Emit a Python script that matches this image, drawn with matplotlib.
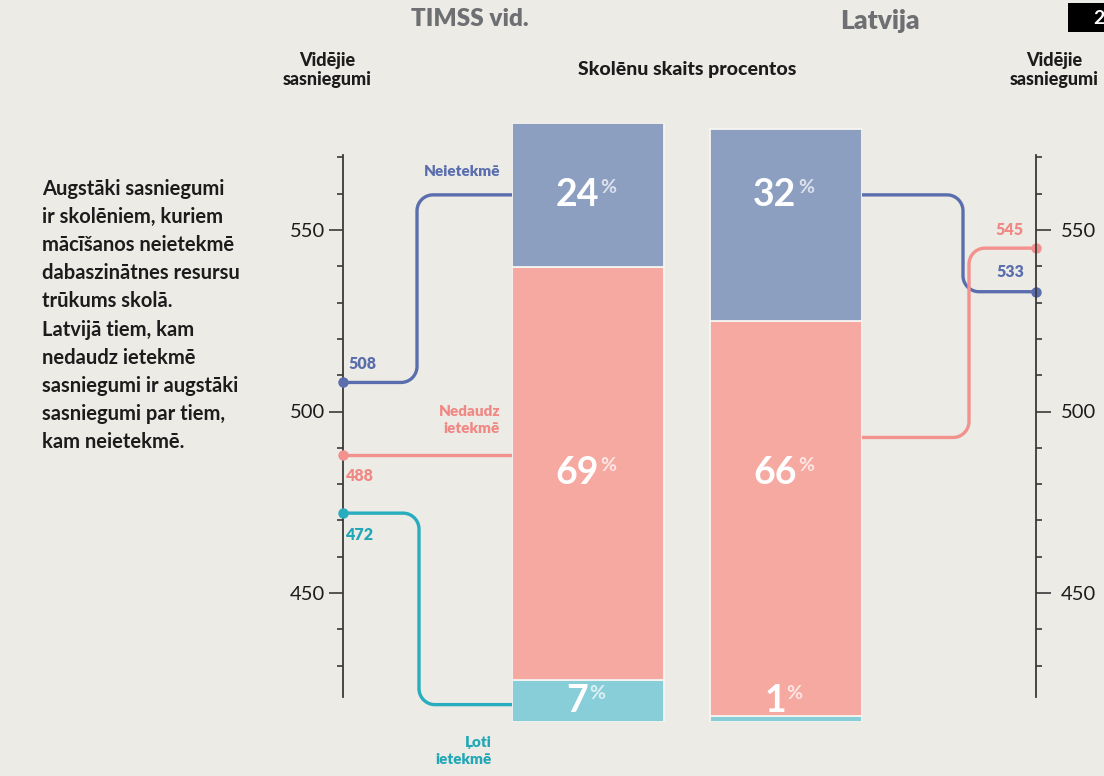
import numpy as np
import matplotlib
matplotlib.use('Agg')
import matplotlib.pyplot as plt
from matplotlib.patches import Rectangle
from matplotlib.ticker import FixedLocator

# ---------------- data ----------------
categories = ['Neietekmē', 'Nedaudz ietekmē', 'Ļoti ietekmē']
category_labels = ['Neietekmē', 'Nedaudz\nietekmē', 'Ļoti\nietekmē']
groups = ['TIMSS vid.', 'Latvija']
timss_pct = [24, 69, 7]
latvia_pct = [32, 66, 1]
timss_score = [508, 488, 472]
latvia_score = [533, 545, None]
score_major_ticks = [450, 500, 550]
score_minor_ticks = [430, 440, 460, 470, 480, 490, 510, 520, 530, 540, 560, 570]
axis_title = 'Vidējie\nsasniegumi'
bar_title = 'Skolēnu skaits procentos'
note_lines = [
    'Augstāki sasniegumi',
    'ir skolēniem, kuriem',
    'mācīšanos neietekmē',
    'dabaszinātnes resursu',
    'trūkums skolā.',
    'Latvijā tiem, kam',
    'nedaudz ietekmē',
    'sasniegumi ir augstāki',
    'sasniegumi par tiem,',
    'kam neietekmē.',
]
corner_label = '2'

# ---------------- style / layout ----------------
W, H = 1104, 776
BG = '#edebe6'
BAR_COLORS = ['#8c9fc0', '#f5a9a1', '#88ced9']
LINE_COLORS = ['#5a6eae', '#f2918d', '#27adbd']
TEXT_COLORS = ['#5a6eae', '#f08884', '#22a7b6']
GREY = '#6e6f72'
INK = '#1c1c1c'
AXC = '#3a3a3a'
FONT = ['Lato', 'Open Sans', 'DejaVu Sans']
plt.rcParams['font.family'] = FONT

fig = plt.figure(figsize=(W / 100, H / 100), dpi=100, facecolor=BG)


def fx(x):
    return x / W


def fy(y):
    return 1 - y / H


# main axes: x in pixels, y in score units
PX_PER_UNIT = 3.63
Y500 = 411.5


def score_at(p):
    return 500 + (Y500 - p) / PX_PER_UNIT


LEFT_X, RIGHT_X = 343, 1036
ax = fig.add_axes([0, 0, 1, 1])
ax.set_facecolor('none')
ax.set_xlim(0, W)
ax.set_ylim(score_at(H), score_at(0))
ax_r = ax.twinx()
ax_r.set_ylim(ax.get_ylim())

for a, side, pos in ((ax, 'left', LEFT_X), (ax_r, 'right', RIGHT_X)):
    for sp in a.spines.values():
        sp.set_visible(False)
    sp = a.spines[side]
    sp.set_visible(True)
    sp.set_position(('data', pos))
    sp.set_bounds(score_at(697), score_at(155))
    sp.set_color(AXC)
    sp.set_linewidth(1.3)
    a.set_yticks(score_major_ticks)
    a.yaxis.set_minor_locator(FixedLocator(score_minor_ticks))
    a.tick_params(axis='y', which='minor', direction='out', length=4.5, width=1.2,
                  color=AXC)
ax.set_xticks([])
ax.tick_params(axis='y', which='major', direction='out', length=10, width=1.2,
               color=AXC, labelsize=14.5, labelcolor=INK, pad=3)
ax_r.tick_params(axis='y', which='major', direction='out', length=11, width=1.2,
                 color=AXC, labelsize=14.5, labelcolor=INK, pad=7)

# bar axes
BAR_TOP, BAR_BOTTOM, BAR_L, BAR_R = 123, 722, 512, 862
ax_b = fig.add_axes([fx(BAR_L), fy(BAR_BOTTOM), (BAR_R - BAR_L) / W,
                     (BAR_BOTTOM - BAR_TOP) / H])
ax_b.set_facecolor('none')
ax_b.axis('off')
BW = 0.768
ax_b.set_xlim(-BW / 2, 1 + BW / 2)
ax_b.set_ylim(0, 100)

for gi, pct in enumerate([timss_pct, latvia_pct]):
    bottom = 0
    for ci in reversed(range(len(categories))):
        ax_b.bar(gi, pct[ci], bottom=bottom, width=BW, color=BAR_COLORS[ci],
                 edgecolor='#f7f5f2', linewidth=1.3)
        bottom += pct[ci]

# label heights follow TIMSS segment midpoints
rev = np.array(list(reversed(timss_pct)), dtype=float)
mids_rev = np.cumsum(rev) - rev / 2
label_y = list(reversed(mids_rev))
for gi, pct in enumerate([timss_pct, latvia_pct]):
    for ci in range(len(categories)):
        t = ax_b.annotate(str(pct[ci]), xy=(gi, label_y[ci]), xytext=(-11, 0),
                          textcoords='offset pixels', ha='center', va='center',
                          color='white', fontsize=27, fontweight='bold')
        ax_b.annotate('%', xy=(1.04, 0.98), xycoords=t, ha='left', va='top',
                      color='white', alpha=0.7, fontsize=14, fontweight='bold')


# connectors
def rounded_step(p0, p1, xc, r, n=24):
    (xa, ya), (xb, yb) = p0, p1
    if abs(yb - ya) < 0.5:
        return np.array([[xa, ya], [xb, yb]])
    s = np.sign(yb - ya)
    r = min(r, abs(yb - ya) / 2)
    t1 = np.radians(np.linspace(-s * 90, 0, n))
    c1 = (xc - r, ya + s * r)
    t2 = np.radians(np.linspace(180, 180 - s * 90, n))
    c2 = (xc + r, yb - s * r)
    xs = np.concatenate([[xa], c1[0] + r * np.cos(t1), c2[0] + r * np.cos(t2), [xb]])
    ys = np.concatenate([[ya], c1[1] + r * np.sin(t1), c2[1] + r * np.sin(t2), [yb]])
    return np.column_stack([xs, ys])


inv = ax.transData.inverted()
LEFT_ANCHOR = [label_y[0], None, label_y[2] - 0.6]
RIGHT_ANCHOR = [label_y[0], 47.5, None]
LEFT_XC, RIGHT_XC = [417, 417, 419], [963, 969, None]
R = 16

for ci in range(len(categories)):
    s = timss_score[ci]
    p0 = ax.transData.transform((LEFT_X, s))
    if LEFT_ANCHOR[ci] is None:
        p1 = (ax_b.transData.transform((-BW / 2, 0))[0], p0[1])
    else:
        p1 = ax_b.transData.transform((-BW / 2, LEFT_ANCHOR[ci]))
    xc = ax.transData.transform((LEFT_XC[ci], 0))[0]
    pts = inv.transform(rounded_step(p0, p1, xc, R))
    ax.plot(pts[:, 0], pts[:, 1], color=LINE_COLORS[ci], lw=2.4,
            solid_capstyle='round', solid_joinstyle='round', zorder=2)
    ax.plot(LEFT_X, s, 'o', color=LINE_COLORS[ci], ms=6.5, zorder=4, clip_on=False)

for ci in range(len(categories)):
    s = latvia_score[ci]
    if s is None:
        continue
    p0 = ax_b.transData.transform((1 + BW / 2, RIGHT_ANCHOR[ci]))
    p1 = ax.transData.transform((RIGHT_X, s))
    xc = ax.transData.transform((RIGHT_XC[ci], 0))[0]
    pts = inv.transform(rounded_step(p0, p1, xc, R))
    ax.plot(pts[:, 0], pts[:, 1], color=LINE_COLORS[ci], lw=2.4,
            solid_capstyle='round', solid_joinstyle='round', zorder=2)
    ax.plot(RIGHT_X, s, 'o', color=LINE_COLORS[ci], ms=6.5, zorder=4, clip_on=False)

# value labels
LEFT_OFF = [(5, 18), (3, -21), (3, -22)]
for ci in range(len(categories)):
    ax.annotate(str(timss_score[ci]), xy=(LEFT_X, timss_score[ci]), xytext=LEFT_OFF[ci],
                textcoords='offset pixels', ha='left', va='center',
                color=TEXT_COLORS[ci], fontsize=11.5, fontweight='heavy')
RIGHT_OFF = [(-12, 20), (-12, 18), None]
for ci in range(len(categories)):
    if latvia_score[ci] is None:
        continue
    ax.annotate(str(latvia_score[ci]), xy=(RIGHT_X, latvia_score[ci]), xytext=RIGHT_OFF[ci],
                textcoords='offset pixels', ha='right', va='center',
                color=TEXT_COLORS[ci], fontsize=11.5, fontweight='heavy')

# category labels
CAT_POS = [(500, 172), (500, 420), (492, 751)]
for ci, lab in enumerate(category_labels):
    fig.text(fx(CAT_POS[ci][0]), fy(CAT_POS[ci][1]), lab, ha='right', va='center',
             color=TEXT_COLORS[ci], fontsize=11, fontweight='heavy',
             linespacing=1.3, multialignment='right')

# titles
fig.text(fx(470), fy(19), groups[0], ha='center', va='center', color=GREY,
         fontsize=17.5, fontweight='heavy')
fig.text(fx(880), fy(21), groups[1], ha='center', va='center', color=GREY,
         fontsize=19, fontweight='heavy')
for x in (327, 1054):
    fig.text(fx(x), fy(70), axis_title, ha='center', va='center', color=INK,
             fontsize=13, fontweight='black', linespacing=1.1)
fig.text(fx(687), fy(69), bar_title, ha='center', va='center', color=INK,
         fontsize=14, fontweight='black')

for i, line in enumerate(note_lines):
    fig.text(fx(42), fy(189 + 28.1 * i), line, ha='left', va='center', color=INK,
             fontsize=14.5, fontweight='bold')

# corner badge
fig.patches.append(Rectangle((fx(1068), fy(32)), fx(1104) - fx(1068), fy(3) - fy(32),
                             transform=fig.transFigure, facecolor='black', edgecolor='none'))
fig.text(fx(1093), fy(18), corner_label, ha='left', va='center', color='white',
         fontsize=14, fontweight='bold')

fig.savefig('out.png', dpi=100, facecolor=BG)
